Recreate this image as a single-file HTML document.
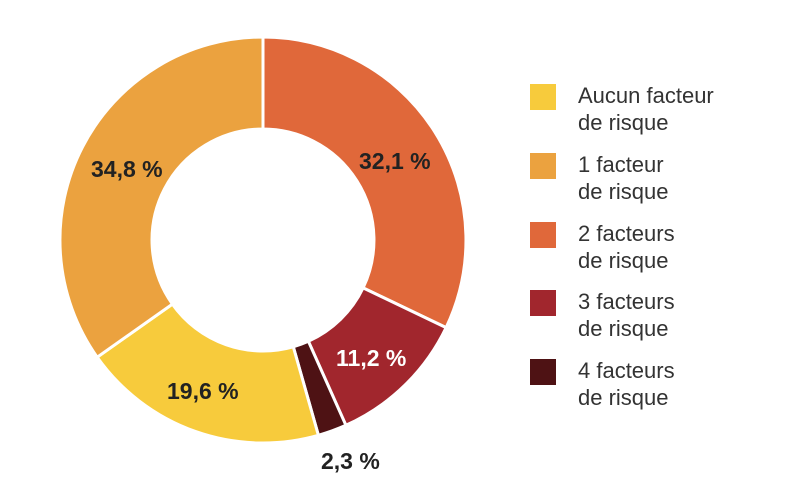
<!DOCTYPE html>
<html><head><style>
html,body{margin:0;padding:0;background:#fff;}
body{width:800px;height:493px;overflow:hidden;}
svg text{font-family:"Liberation Sans",sans-serif;}
</style></head><body>
<svg width="800" height="493" viewBox="0 0 800 493" xmlns="http://www.w3.org/2000/svg">
<g stroke="#fff" stroke-width="3" stroke-linejoin="miter">
<path d="M263,37 A203,203 0 0 1 446.1,327.6 L363.1,287.9 A111,111 0 0 0 263,129 Z" fill="#E0683A"/>
<path d="M446.1,327.6 A203,203 0 0 1 345.9,425.3 L308.4,341.3 A111,111 0 0 0 363.1,287.9 Z" fill="#A1262D"/>
<path d="M345.9,425.3 A203,203 0 0 1 318.4,435.3 L293.3,346.8 A111,111 0 0 0 308.4,341.3 Z" fill="#4E1214"/>
<path d="M318.4,435.3 A203,203 0 0 1 97.2,357.2 L172.4,304.1 A111,111 0 0 0 293.3,346.8 Z" fill="#F7CB3C"/>
<path d="M97.2,357.2 A203,203 0 0 1 263,37 L263,129 A111,111 0 0 0 172.4,304.1 Z" fill="#EBA23F"/>
</g>
<g font-size="23" font-weight="bold" fill="#222">
<text x="91" y="177">34,8 %</text>
<text x="359" y="169">32,1 %</text>
<text x="336" y="366" fill="#fff">11,2 %</text>
<text x="167" y="399">19,6 %</text>
<text x="321" y="469">2,3 %</text>
</g>
<rect x="530" y="84" width="26" height="26" fill="#F7CB3C"/>
<rect x="530" y="153" width="26" height="26" fill="#EBA23F"/>
<rect x="530" y="222" width="26" height="26" fill="#E0683A"/>
<rect x="530" y="290" width="26" height="26" fill="#A1262D"/>
<rect x="530" y="359" width="26" height="26" fill="#4E1214"/>
<g font-size="22" fill="#333">
<text x="578" y="103">Aucun facteur</text><text x="578" y="130">de risque</text>
<text x="578" y="172">1 facteur</text><text x="578" y="199">de risque</text>
<text x="578" y="241">2 facteurs</text><text x="578" y="268">de risque</text>
<text x="578" y="309">3 facteurs</text><text x="578" y="336">de risque</text>
<text x="578" y="378">4 facteurs</text><text x="578" y="405">de risque</text>
</g>
</svg>
</body></html>
